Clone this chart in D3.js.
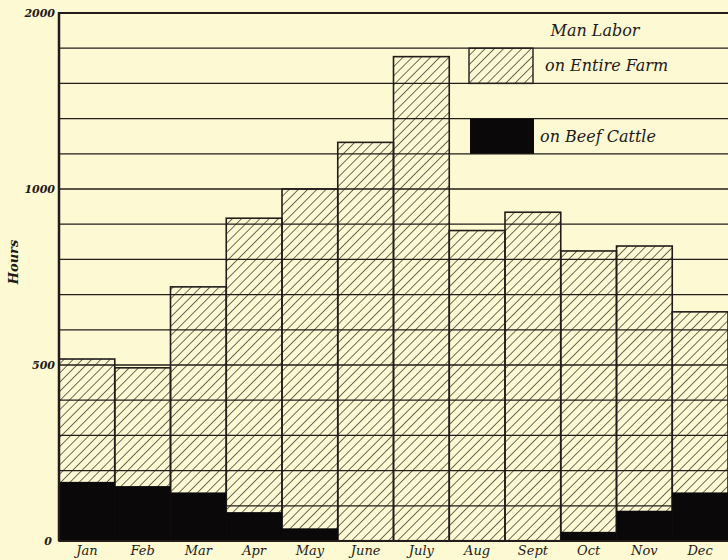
<!DOCTYPE html>
<html>
  <head>
    <meta charset="utf-8" />
    <title>Man Labor by Month</title>
    <script src="https://d3js.org/d3.v7.min.js"></script>
    <style>
      body {
        margin: 0;
        background: #fcf9d3;
      }
      text {
        font-family: 'DejaVu Serif', serif;
        font-style: italic;
        fill: #1e1a17;
      }
      .month-label {
        font-size: 13px;
      }
      .tick-label {
        font-size: 11px;
        font-weight: bold;
      }
      .legend-text {
        font-size: 16px;
      }
    </style>
  </head>
  <body>
    <div id="chart"></div>
    <script>
      // data (hours of man labor per month)
      const months = ['Jan', 'Feb', 'Mar', 'Apr', 'May', 'June', 'July', 'Aug', 'Sept', 'Oct', 'Nov', 'Dec'];
      const entireFarm = [517, 492, 722, 917, 1000, 1265, 1752, 882, 934, 824, 838, 651];
      const beefCattle = [168, 156, 138, 82, 36, 3, 3, 3, 3, 26, 86, 138];

      // axis: scale is stretched below 1000 hours
      const yLabelTicks = [0, 500, 1000, 2000];
      const gridTicks = [0, 100, 200, 300, 400, 500, 600, 700, 800, 900, 1000, 1200, 1400, 1600, 1800, 2000];

      const width = 728;
      const height = 560;
      const ink = '#221d1a';

      const svg = d3
        .select('#chart')
        .append('svg')
        .attr('width', width)
        .attr('height', height);

      const x = d3.scaleBand().domain(months).range([59, 728]).padding(0);
      const y = d3.scaleLinear().domain([0, 1000, 2000]).range([541, 189, 13]);

      // hatch pattern ("/" direction)
      const defs = svg.append('defs');
      const hatch = defs
        .append('pattern')
        .attr('id', 'hatch')
        .attr('patternUnits', 'userSpaceOnUse')
        .attr('width', 6.5)
        .attr('height', 6.5)
        .attr('patternTransform', 'rotate(45)');
      hatch
        .append('line')
        .attr('x1', 0)
        .attr('y1', 0)
        .attr('x2', 0)
        .attr('y2', 6.5)
        .attr('stroke', ink)
        .attr('stroke-width', 1.3);

      // grid lines
      svg
        .append('g')
        .selectAll('line')
        .data(gridTicks)
        .join('line')
        .attr('x1', 59)
        .attr('x2', width)
        .attr('y1', (d) => y(d))
        .attr('y2', (d) => y(d))
        .attr('stroke', ink)
        .attr('stroke-width', (d) => (d === 2000 ? 2 : 1.3));

      // entire farm bars
      svg
        .append('g')
        .selectAll('rect')
        .data(entireFarm)
        .join('rect')
        .attr('x', (d, i) => x(months[i]))
        .attr('width', x.bandwidth())
        .attr('y', (d) => y(d))
        .attr('height', (d) => y(0) - y(d))
        .attr('fill', 'url(#hatch)')
        .attr('stroke', ink)
        .attr('stroke-width', 1.6);

      // beef cattle bars
      svg
        .append('g')
        .selectAll('rect')
        .data(beefCattle)
        .join('rect')
        .attr('x', (d, i) => x(months[i]))
        .attr('width', x.bandwidth())
        .attr('y', (d) => y(d))
        .attr('height', (d) => y(0) - y(d))
        .attr('fill', '#0a0808');

      // left axis and baseline
      svg
        .append('line')
        .attr('x1', 59)
        .attr('x2', 59)
        .attr('y1', y(2000) - 1)
        .attr('y2', y(0))
        .attr('stroke', ink)
        .attr('stroke-width', 2.5);

      svg
        .append('line')
        .attr('x1', 59)
        .attr('x2', width)
        .attr('y1', y(0))
        .attr('y2', y(0))
        .attr('stroke', ink)
        .attr('stroke-width', 2);

      svg
        .append('g')
        .selectAll('text')
        .data(yLabelTicks)
        .join('text')
        .attr('class', 'tick-label')
        .attr('x', (d) => (d === 0 ? 52 : 55))
        .attr('y', (d) => y(d))
        .attr('dy', '0.35em')
        .attr('text-anchor', 'end')
        .text((d) => d);

      svg
        .append('text')
        .attr('class', 'tick-label')
        .attr('transform', 'translate(13,262) rotate(-90)')
        .attr('text-anchor', 'middle')
        .attr('dy', '0.35em')
        .style('font-size', '13px')
        .text('Hours');

      // month labels
      svg
        .append('g')
        .selectAll('text')
        .data(months)
        .join('text')
        .attr('class', 'month-label')
        .attr('x', (d) => x(d) + x.bandwidth() / 2)
        .attr('y', 550)
        .attr('dy', '0.35em')
        .attr('text-anchor', 'middle')
        .text((d) => d);

      // legend, boxes sit between grid lines
      svg
        .append('text')
        .attr('class', 'legend-text')
        .attr('x', 595)
        .attr('y', (y(2000) + y(1800)) / 2)
        .attr('dy', '0.35em')
        .attr('text-anchor', 'middle')
        .text('Man Labor');

      svg
        .append('rect')
        .attr('x', 469)
        .attr('width', 64)
        .attr('y', y(1800))
        .attr('height', y(1600) - y(1800))
        .attr('fill', 'url(#hatch)')
        .attr('stroke', ink)
        .attr('stroke-width', 1.4);

      svg
        .append('text')
        .attr('class', 'legend-text')
        .attr('x', 545)
        .attr('y', (y(1800) + y(1600)) / 2)
        .attr('dy', '0.35em')
        .text('on Entire Farm');

      svg
        .append('rect')
        .attr('x', 470)
        .attr('width', 64)
        .attr('y', y(1400))
        .attr('height', y(1200) - y(1400))
        .attr('fill', '#0a0808');

      svg
        .append('text')
        .attr('class', 'legend-text')
        .attr('x', 540)
        .attr('y', (y(1400) + y(1200)) / 2)
        .attr('dy', '0.35em')
        .text('on Beef Cattle');
    </script>
  </body>
</html>
